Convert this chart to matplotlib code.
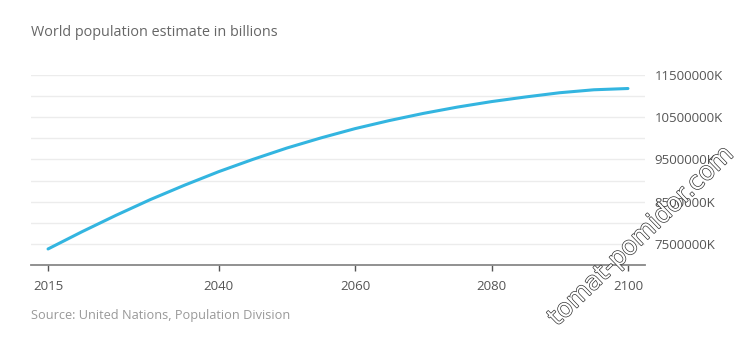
import matplotlib
matplotlib.use("Agg")
import matplotlib.pyplot as plt
import matplotlib.patheffects as pe

plt.rcParams['font.family'] = ['Open Sans', 'DejaVu Sans']

# UN medium variant, billions
years = [2015, 2020, 2025, 2030, 2035, 2040, 2045, 2050, 2055, 2060,
         2065, 2070, 2075, 2080, 2085, 2090, 2095, 2100]
population = [7.38, 7.79, 8.18, 8.55, 8.89, 9.21, 9.50, 9.77, 10.01, 10.23,
              10.42, 10.59, 10.74, 10.87, 10.98, 11.08, 11.15, 11.18]

xticks = [2015, 2040, 2060, 2080, 2100]
yticks = [7.5, 8.5, 9.5, 10.5, 11.5]
ygrid = [7.5, 8.0, 8.5, 9.0, 9.5, 10.0, 10.5, 11.0, 11.5]

fig = plt.figure(figsize=(7.47, 3.39), dpi=100)
ax = fig.add_axes([31 / 747, 74 / 339, 614 / 747, 190 / 339])

for g in ygrid:
    ax.axhline(g, color='#ececec', lw=1, zorder=0)

ax.plot(years, population, color='#33b5e0', lw=2.2, zorder=3,
        solid_capstyle='round', solid_joinstyle='round')

ax.set_xlim(2012.5, 2102.5)
ax.set_ylim(7.0, 11.5)

ax.set_xticks(xticks)
ax.set_xticklabels([str(x) for x in xticks])
ax.set_yticks(yticks)
ax.set_yticklabels([f"{int(round(v * 1e6))}K" for v in yticks])
ax.yaxis.tick_right()
ax.tick_params(axis='y', length=0, pad=7, labelsize=9.5, labelcolor='#555555')
ax.tick_params(axis='x', length=4, width=1, color='#555555', pad=7,
               labelsize=9.5, labelcolor='#555555')

for s in ['top', 'left', 'right']:
    ax.spines[s].set_visible(False)
ax.spines['bottom'].set_color('#888888')
ax.spines['bottom'].set_linewidth(1.3)

fig.text(31 / 747, 1 - 32 / 339, 'World population estimate in billions',
         fontsize=10.4, color='#666666', va='center', ha='left')
fig.text(31 / 747, 1 - 316 / 339, 'Source: United Nations, Population Division',
         fontsize=9.2, color='#999999', va='center', ha='left')

wm = fig.text(641 / 747, 1 - 236 / 339, 'tomat-pomidor.com', fontsize=18,
              color='white', rotation=44, ha='center', va='center',
              family='DejaVu Sans', zorder=10)
wm.set_path_effects([pe.Stroke(linewidth=1.0, foreground='#333333'), pe.Normal()])

fig.savefig('out.png', dpi=100, facecolor='white')
